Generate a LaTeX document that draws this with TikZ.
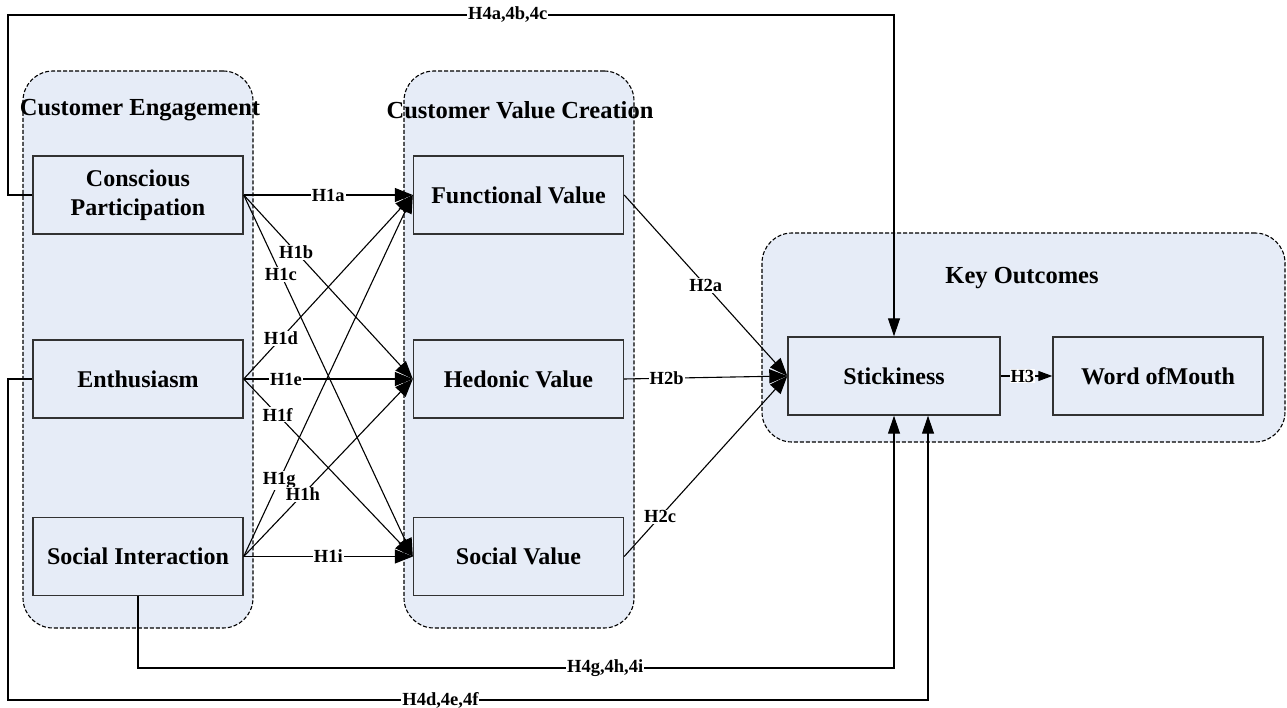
\documentclass[tikz,border=0pt]{standalone}
\usepackage{fontspec}
\setmainfont{Liberation Serif}
\usetikzlibrary{arrows.meta}
\definecolor{boxblue}{RGB}{230,236,247}
\definecolor{boxline}{RGB}{50,50,50}
\begin{document}
\begin{tikzpicture}[x=1pt,y=-1pt,
  grp/.style={draw=black, fill=boxblue, dash pattern=on 4pt off 2pt, line width=1.1pt, rounded corners=30pt, inner sep=0pt},
  box/.style={draw=boxline, fill=boxblue, line width=1.4pt, minimum width=210pt, minimum height=78pt, inner sep=0pt, align=center, font=\fontsize{24}{29}\selectfont\bfseries},
  ttl/.style={font=\fontsize{24.5}{29}\selectfont\bfseries, inner sep=0pt},
  con/.style={draw=black, line width=1.1pt},
  arr/.style={con, -{Triangle[length=18pt,width=14pt]}},
  arrfour/.style={con, -{Triangle[length=18pt,width=12pt]}},
  arrthree/.style={con, -{Triangle[length=14pt,width=10pt]}},
  lbl/.style={fill=white, inner sep=1pt, font=\fontsize{18.5}{20}\selectfont\bfseries},
]
\useasboundingbox (0,0) rectangle (1287,708);
% groups
\node[grp, minimum width=230pt, minimum height=557pt] (G1) at (138,349.5) {};
\node[grp, minimum width=230pt, minimum height=557pt] (G2) at (519,349.5) {};
\node[grp, minimum width=523pt, minimum height=209pt] (G3) at (1023.5,337.5) {};
\node[ttl] (T1) at (140,110) {Customer Engagement};
\node[ttl] (T2) at (520,110) {Customer Value Creation};
\node[ttl] (T3) at (1022,278) {Key Outcomes};
% boxes
\node[box] (CP) at (138,195) {Conscious\\Participation};
\node[box] (EN) at (138,379) {Enthusiasm};
\node[box] (SI) at (138,556.5) {Social Interaction};
\node[box] (FV) at (518.5,195) {Functional Value};
\node[box] (HV) at (518.5,379) {Hedonic Value};
\node[box] (SV) at (518.5,556.5) {Social Value};
\node[box, minimum width=212pt] (ST) at (894,376) {Stickiness};
\node[box] (WM) at (1158,376) {Word ofMouth};
% H1
\draw[arr] (CP.east) -- node[lbl,pos=0.5]{H1a} (FV.west);
\draw[arr] (CP.east) -- node[lbl,pos=0.31]{H1b} (HV.west);
\draw[arr] (CP.east) -- node[lbl,pos=0.22]{H1c} (SV.west);
\draw[arr] (EN.east) -- node[lbl,pos=0.22]{H1d} (FV.west);
\draw[arr] (EN.east) -- node[lbl,pos=0.25]{H1e} (HV.west);
\draw[arr] (EN.east) -- node[lbl,pos=0.2]{H1f} (SV.west);
\draw[arr] (SI.east) -- node[lbl,pos=0.21]{H1g} (FV.west);
\draw[arr] (SI.east) -- node[lbl,pos=0.35]{H1h} (HV.west);
\draw[arr] (SI.east) -- node[lbl,pos=0.5]{H1i} (SV.west);
% H2
\draw[arr] (FV.east) -- node[lbl,pos=0.5]{H2a} (ST.west);
\draw[arr] (HV.east) -- node[lbl,pos=0.26]{H2b} (ST.west);
\draw[arr] (SV.east) -- node[lbl,pos=0.22]{H2c} (ST.west);
% H3
\draw[arrthree] (ST.east) -- node[lbl,pos=0.42,inner sep=0.5pt]{H3} (WM.west);
% H4
\draw[arrfour] (CP.west) -- (8,195) -- (8,15) -- node[lbl,pos=0.564]{H4a,4b,4c} (894,15) -- (ST.north);
\draw[arrfour] (SI.south) -- (138,668) -- node[lbl,pos=0.618]{H4g,4h,4i} (894,668) -- (ST.south);
\draw[arrfour] (EN.west) -- (8,379) -- (8,700) -- node[lbl,pos=0.47]{H4d,4e,4f} (928,700) -- (928,700 |- ST.south);
\end{tikzpicture}
\end{document}
